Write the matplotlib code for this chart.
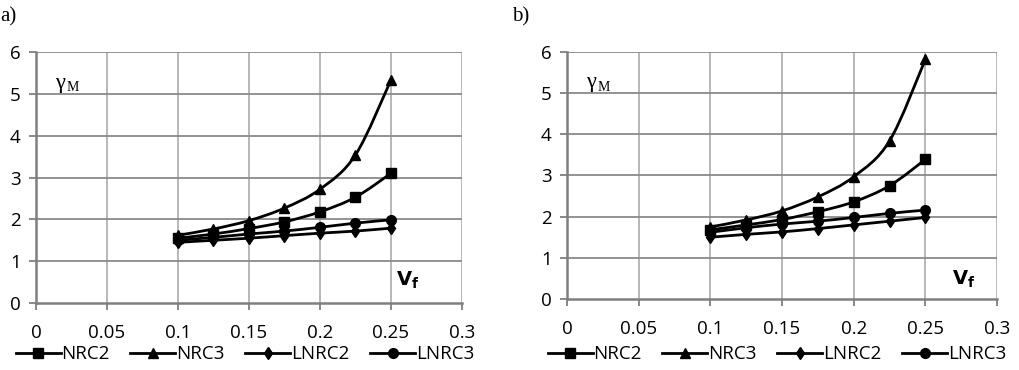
import numpy as np
import matplotlib
matplotlib.use("Agg")
import matplotlib.pyplot as plt
from matplotlib.path import Path
from matplotlib.patches import PathPatch
from matplotlib.lines import Line2D

vf = [0.1, 0.125, 0.15, 0.175, 0.2, 0.225, 0.25]
series_names = ["NRC2", "NRC3", "LNRC2", "LNRC3"]
markers = ["s", "^", "d", "o"]
msizes = [7, 7, 6.5, 7]

a_nrc2 = [1.55, 1.65, 1.78, 1.94, 2.18, 2.53, 3.10]
a_nrc3 = [1.62, 1.77, 1.97, 2.27, 2.72, 3.54, 5.33]
a_lnrc2 = [1.45, 1.50, 1.55, 1.61, 1.67, 1.72, 1.79]
a_lnrc3 = [1.50, 1.57, 1.65, 1.72, 1.81, 1.91, 1.99]

b_nrc2 = [1.68, 1.80, 1.93, 2.12, 2.36, 2.75, 3.39]
b_nrc3 = [1.75, 1.92, 2.14, 2.48, 2.97, 3.84, 5.82]
b_lnrc2 = [1.50, 1.57, 1.63, 1.71, 1.80, 1.89, 1.98]
b_lnrc3 = [1.62, 1.73, 1.82, 1.89, 1.98, 2.08, 2.16]

x_ticks = [0, 0.05, 0.1, 0.15, 0.2, 0.25, 0.3]
x_tick_labels = ["0", "0.05", "0.1", "0.15", "0.2", "0.25", "0.3"]
y_ticks = [0, 1, 2, 3, 4, 5, 6]

SANS = "Open Sans"
SERIF = "Liberation Serif"


def smooth_path(x, y):
    pts = np.column_stack([x, y]).astype(float)
    n = len(pts)
    verts = [pts[0]]
    codes = [Path.MOVETO]
    for i in range(n - 1):
        p0 = pts[i - 1] if i > 0 else pts[i]
        p1 = pts[i]
        p2 = pts[i + 1]
        p3 = pts[i + 2] if i + 2 < n else pts[i + 1]
        c1 = p1 + (p2 - p0) / 6.0
        c2 = p2 - (p3 - p1) / 6.0
        verts += [c1, c2, p2]
        codes += [Path.CURVE4] * 3
    return Path(verts, codes)


fig = plt.figure(figsize=(10.2, 3.7), dpi=100)
axes_pos = [[0.0353, 0.181, 0.4176, 0.6784], [0.5559, 0.1919, 0.4216, 0.6676]]
data_sets = [[a_nrc2, a_nrc3, a_lnrc2, a_lnrc3], [b_nrc2, b_nrc3, b_lnrc2, b_lnrc3]]
panel_labels = ["a)", "b)"]
panel_label_x = [0.0, 0.502]
vf_pos = [(0.845, 0.09), (0.895, 0.08)]
legend_center = [(245 / 1020, 0.042), (777 / 1020, 0.042)]

for k in range(2):
    ax = fig.add_axes(axes_pos[k])
    ax.set_xlim(0, 0.3)
    ax.set_ylim(0, 6)
    ax.set_xticks(x_ticks)
    ax.set_xticklabels(x_tick_labels)
    ax.set_yticks(y_ticks)
    for xt in x_ticks[1:]:
        ax.axvline(xt, color="#b2b2b2", lw=1.3, zorder=0)
    for yt in y_ticks[1:]:
        ax.axhline(yt, color="#8a8a8a", lw=1.3, zorder=0)
    for s in ["top", "right"]:
        ax.spines[s].set_visible(False)
    for s in ["left", "bottom"]:
        ax.spines[s].set_color("#7f7f7f")
        ax.spines[s].set_linewidth(1.8)
    ax.tick_params(axis="both", direction="out", length=5, width=1.3,
                   color="#7f7f7f", labelsize=13.5, pad=3)
    ax.tick_params(axis="x", pad=10)
    ax.tick_params(axis="y", pad=6)
    for lab in ax.get_xticklabels() + ax.get_yticklabels():
        lab.set_fontfamily(SANS)
    handles = []
    for j, ys in enumerate(data_sets[k]):
        patch = PathPatch(smooth_path(vf, ys), facecolor="none",
                          edgecolor="black", lw=2.0, zorder=3)
        ax.add_patch(patch)
        ax.plot(vf, ys, linestyle="none", marker=markers[j], ms=msizes[j],
                color="black", zorder=4)
        handles.append(Line2D([], [], color="black", lw=2.0,
                              marker=markers[j], ms=msizes[j]))
    ax.text(0.045, 0.875, "γ", transform=ax.transAxes, fontsize=16,
            family=SERIF, va="center")
    ax.text(0.072, 0.858, "M", transform=ax.transAxes, fontsize=10,
            family=SERIF, va="center")
    ax.text(vf_pos[k][0], vf_pos[k][1], r"$\mathbf{V_f}$",
            transform=ax.transAxes, fontsize=14,
            math_fontfamily="dejavusans", va="center")
    fig.text(panel_label_x[k], 0.955, panel_labels[k], fontsize=15,
             family=SERIF, va="center")
    fig.legend(handles, series_names, loc="center", ncol=4,
               bbox_to_anchor=legend_center[k], frameon=False,
               prop={"family": SANS, "size": 13.5}, handlelength=2.4,
               handletextpad=0.05, columnspacing=1.1, borderaxespad=0,
               borderpad=0)

fig.savefig("out.png", dpi=100)
